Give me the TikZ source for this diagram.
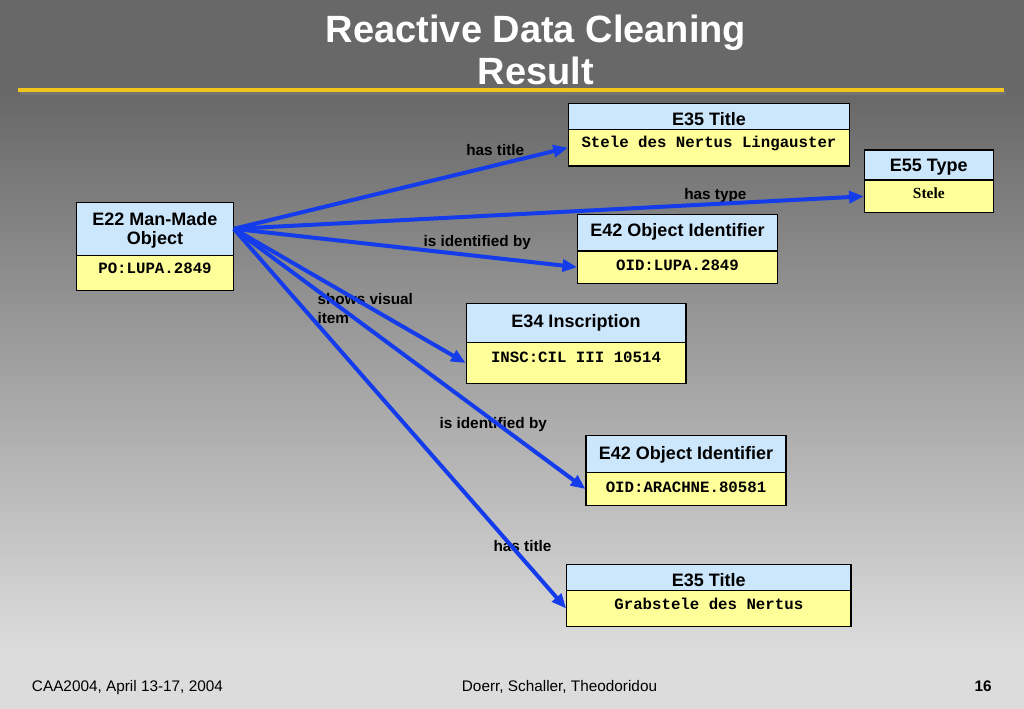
\documentclass[tikz,border=0pt]{standalone}
\usepackage{fontspec}
\setmainfont{Liberation Sans}
\newfontfamily\monof{Liberation Mono}
\newfontfamily\seriff{Liberation Serif}
\usetikzlibrary{arrows.meta,fit}
\definecolor{bgtop}{RGB}{104,104,104}
\definecolor{bgbot}{RGB}{220,220,220}
\definecolor{yline}{RGB}{240,198,28}
\definecolor{hdrblue}{RGB}{204,230,252}
\definecolor{bodyyel}{RGB}{255,255,153}
\definecolor{arrblue}{RGB}{20,60,235}
\tikzset{
  hdrbox/.style={draw=black, line width=0.8pt, fill=hdrblue, inner sep=0pt},
  bodybox/.style={draw=black, line width=0.8pt, fill=bodyyel, inner sep=0pt},
  hdrtext/.style={font=\fontsize{13.5}{16}\selectfont\bfseries, inner sep=0pt, anchor=base},
  valtext/.style={font=\fontsize{11.8}{14}\selectfont\monof\bfseries, inner sep=0pt, anchor=base},
  lbl/.style={font=\fontsize{11.5}{14}\selectfont\bfseries, inner sep=0pt, anchor=base west},
  arr/.style={draw=arrblue, line width=3pt, -{Triangle[length=11pt,width=9pt]}},
  foot/.style={font=\fontsize{11.5}{14}\selectfont, inner sep=0pt}
}
\begin{document}
\begin{tikzpicture}[x=0.75pt,y=-0.75pt]
\useasboundingbox (0,0) rectangle (1024,709);
% background
\fill[bgtop] (0,0) rectangle (1024,96);
\shade[top color=bgtop, bottom color=bgbot] (0,95.5) rectangle (1024,650);
\fill[bgbot] (0,649.5) rectangle (1024,709);
% title rule
\fill[black!55] (20,91.5) rectangle (1006,95);
\fill[yline] (18,88) rectangle (1004,92);
% title
\node[font=\fontsize{28.5}{31.9}\selectfont\bfseries, text=white, align=center, inner sep=0pt, anchor=north] (title) at (536,14.5) {Reactive Data Cleaning\\Result};
% boxes
\node[hdrbox, fit={(76.7,202.3) (233.3,255.3)}] (e22h) {};
\node[bodybox, fit={(76.7,255.3) (233.3,290.7)}] (e22b) {};
\node[hdrtext] (e22t1) at (155,225.5) {E22 Man-Made};
\node[hdrtext] (e22t2) at (155,245) {Object};
\node[valtext] (e22v) at (155,274) {PO:LUPA.2849};

\node[hdrbox, fit={(568.5,103.3) (849.5,129.3)}] (t1h) {};
\node[bodybox, fit={(568.5,129.3) (849.5,166)}] (t1b) {};
\node[hdrtext] (t1t) at (709,125.5) {E35 Title};
\node[valtext] (t1v) at (709,148) {Stele des Nertus Lingauster};

\node[hdrbox, fit={(864.3,150) (993.3,180)}] (tyh) {};
\node[bodybox, fit={(864.3,180) (993.3,212.7)}] (tyb) {};
\node[hdrtext] (tyt) at (928.8,172) {E55 Type};
\node[font=\fontsize{11.6}{14}\selectfont\seriff\bfseries, inner sep=0pt, anchor=base] (tyv) at (928.8,199) {Stele};

\node[hdrbox, fit={(577.7,214.3) (777.3,251)}] (o1h) {};
\node[bodybox, fit={(577.7,251) (777.3,283.3)}] (o1b) {};
\node[hdrtext] (o1t) at (677.5,237) {E42 Object Identifier};
\node[valtext] (o1v) at (677.5,270.5) {OID:LUPA.2849};

\node[hdrbox, fit={(466.3,303.3) (686,342.3)}] (inh) {};
\node[bodybox, fit={(466.3,342.3) (686,383.7)}] (inb) {};
\node[hdrtext] (int) at (576,327) {E34 Inscription};
\node[valtext] (inv) at (576,362) {INSC:CIL III 10514};

\node[hdrbox, fit={(586,435.7) (786,472.7)}] (o2h) {};
\node[bodybox, fit={(586,472.7) (786,505.3)}] (o2b) {};
\node[hdrtext] (o2t) at (686,459) {E42 Object Identifier};
\node[valtext] (o2v) at (686,492) {OID:ARACHNE.80581};

\node[hdrbox, fit={(566.7,564.3) (851,590.3)}] (t2h) {};
\node[bodybox, fit={(566.7,590.3) (851,626.7)}] (t2b) {};
\node[hdrtext] (t2t) at (708.8,586.5) {E35 Title};
\node[valtext] (t2v) at (708.8,609) {Grabstele des Nertus};
% labels
\node[lbl] (l1) at (466,156) {has title};
\node[lbl] (l2) at (684,199.3) {has type};
\node[lbl] (l3) at (423.3,246.5) {is identified by};
\node[font=\fontsize{11.5}{14}\selectfont\bfseries, inner sep=0pt, align=left, anchor=north west] (l4) at (317.3,293) {shows visual\\item};
\node[lbl] (l5) at (439.3,428.3) {is identified by};
\node[lbl] (l6) at (493.3,551.7) {has title};
% connectors
\draw[arr] (e22h.east) -- (t1b.west);
\draw[arr] (e22h.east) -- (tyb.west);
\draw[arr] (e22h.east) -- (o1b.west);
\draw[arr] (e22h.east) -- (inb.west);
\draw[arr] (e22h.east) -- (o2b.west);
\draw[arr] (e22h.east) -- (t2b.west);
% footer
\node[foot, anchor=base west] (f1) at (31.7,691.5) {CAA2004, April 13-17, 2004};
\node[foot, anchor=base] (f2) at (559.5,691.5) {Doerr, Schaller, Theodoridou};
\node[foot, font=\fontsize{11.5}{14}\selectfont\bfseries, anchor=base east] (f3) at (992,691.5) {16};
\end{tikzpicture}
\end{document}
